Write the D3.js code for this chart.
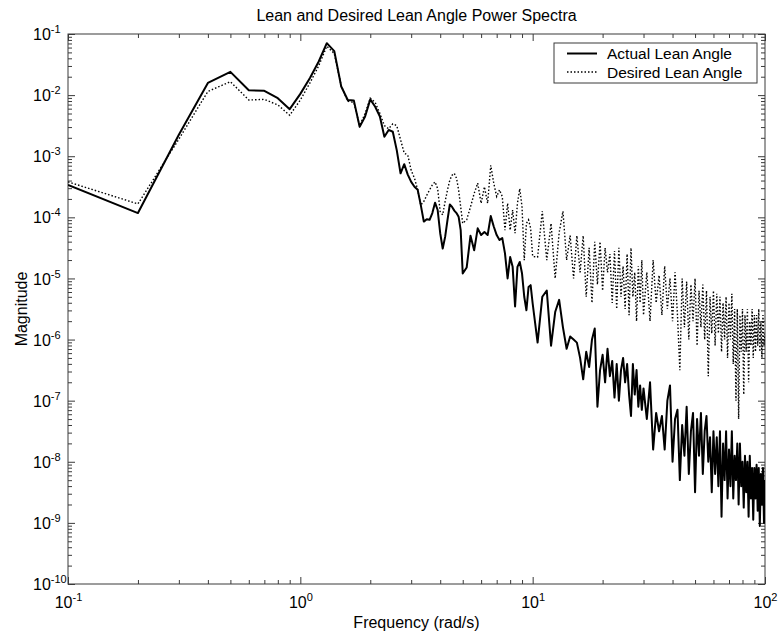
<!DOCTYPE html>
<html><head><meta charset="utf-8">
<script src="https://cdn.jsdelivr.net/npm/d3@7/dist/d3.min.js"></script>
<style>
body{margin:0;background:#fff}
text{font-family:Arial,"Liberation Sans",sans-serif;fill:#000}
</style>
</head><body>
<svg id="chart" width="778" height="638"></svg>
<script>
const title = "Lean and Desired Lean Angle Power Spectra";
const xLabel = "Frequency (rad/s)";
const yLabel = "Magnitude";
const seriesNames = ["Actual Lean Angle", "Desired Lean Angle"];

// frequency bins (rad/s)
const frequency = [
0.1,0.2,0.3,0.4,0.5,0.6,0.7,0.8,0.9,1.0,1.1,1.2,1.3,1.4,1.5,1.6,1.7,1.8,1.9,2.0,
2.1,2.2,2.3,2.4,2.5,2.6,2.7,2.8,2.9,3.0,3.1,3.2,3.3,3.4,3.5,3.6,3.7,3.8,3.9,4.0,
4.1,4.2,4.3,4.4,4.5,4.6,4.7,4.8,4.9,5.0,
5.2,5.4,5.6,5.8,6.0,6.2,6.4,6.6,6.8,7.0,7.2,7.4,7.6,7.8,8.0,8.2,8.4,8.6,8.8,9.0,9.2,9.4,9.6,9.8,10,
10.5,11,11.5,12,12.5,13,13.5,14,14.5,15,15.5,16,16.5,17,17.5,18,18.5,19,19.5,20,
20.5,21,21.5,22,22.5,23,23.5,24,24.5,25,25.5,26,26.5,27,27.5,28,28.5,29,29.5,30,
31,32,33,34,35,36,37,38,39,40,41,42,43,44,45,46,47,48,49,50,
51,52,53,54,55,56,57,58,59,60,61,62,63,64,65,66,67,68,69,70,
71,72,73,74,75,76,77,78,79,80,81,82,83,84,85,86,87,88,89,90,
91,92,93,94,95,96,97,98,99,100];

// log10 of magnitude
const actualLog10 = [
-3.47,-3.93,-2.65,-1.80,-1.62,-1.92,-1.93,-2.05,-2.23,-1.98,-1.72,-1.45,-1.15,-1.28,-1.86,-2.08,-2.09,-2.52,-2.35,-2.07,
-2.19,-2.35,-2.68,-2.57,-2.60,-2.90,-3.28,-3.13,-3.30,-3.42,-3.50,-3.55,-3.80,-4.07,-4.03,-4.04,-3.93,-3.76,-3.88,-4.26,
-4.51,-4.32,-4.04,-3.79,-3.83,-3.89,-3.93,-3.99,-4.21,-4.92,
-4.82,-4.30,-4.54,-4.18,-4.29,-4.24,-4.29,-3.98,-4.15,-4.29,-4.37,-4.34,-4.59,-5.00,-4.65,-4.81,-5.46,-4.81,-4.73,-4.92,-5.30,-5.52,-5.14,-5.11,-5.41,
-6.05,-5.30,-5.20,-6.10,-5.55,-5.35,-5.80,-6.15,-5.95,-6.00,-6.05,-6.30,-6.65,-6.20,-6.45,-6.00,-5.82,-7.10,-6.50,-6.25,
-6.70,-6.15,-6.60,-6.35,-6.95,-6.40,-7.00,-6.50,-6.30,-6.70,-6.40,-6.90,-7.25,-6.40,-6.90,-6.50,-7.10,-6.75,-7.15,-6.80,
-7.30,-6.70,-7.80,-7.20,-7.50,-7.25,-7.80,-7.00,-6.75,-8.00,-7.30,-7.15,-8.30,-7.40,-7.90,-7.10,-8.20,-7.50,-7.20,-8.50,
-7.30,-7.90,-7.20,-8.20,-7.50,-7.25,-8.00,-7.60,-8.50,-7.50,-8.20,-7.60,-8.40,-7.50,-8.90,-7.70,-8.30,-7.50,-8.60,-7.80,
-8.40,-7.50,-8.60,-7.90,-8.30,-7.70,-8.70,-7.70,-8.40,-8.00,-8.75,-7.90,-8.50,-8.00,-8.90,-7.90,-8.60,-8.10,-8.95,-8.10,
-8.60,-8.05,-8.80,-8.10,-9.05,-8.20,-8.70,-8.10,-9.00,-8.30];

const desiredLog10 = [
-3.42,-3.78,-2.72,-1.94,-1.78,-2.08,-2.07,-2.16,-2.33,-2.08,-1.80,-1.52,-1.20,-1.32,-1.85,-2.10,-2.12,-2.50,-2.30,-2.05,
-2.12,-2.30,-2.50,-2.55,-2.47,-2.50,-2.73,-2.95,-2.98,-3.23,-3.36,-3.55,-3.80,-3.74,-3.64,-3.55,-3.47,-3.42,-3.53,-3.91,
-3.96,-3.74,-3.55,-3.39,-3.31,-3.28,-3.36,-3.55,-3.83,-4.10,
-4.04,-3.83,-3.61,-3.44,-3.77,-3.50,-3.77,-3.15,-3.44,-3.66,-3.55,-3.66,-4.21,-3.77,-4.21,-3.88,-4.26,-3.77,-3.53,-3.83,-4.70,-4.10,-4.04,-4.18,-4.64,
-4.65,-3.90,-4.70,-4.10,-5.00,-4.25,-3.90,-4.70,-4.30,-5.00,-4.30,-4.90,-4.30,-5.30,-4.50,-5.40,-4.40,-5.10,-4.40,-5.20,
-4.50,-4.90,-4.60,-5.40,-4.55,-5.50,-4.50,-5.30,-4.80,-5.50,-4.60,-5.60,-4.50,-5.30,-4.90,-5.70,-4.80,-5.40,-4.70,-5.60,
-4.90,-5.70,-4.70,-5.40,-4.95,-5.60,-4.80,-5.50,-5.00,-5.70,-4.90,-5.60,-6.50,-5.00,-5.80,-5.05,-6.00,-5.10,-5.70,-5.00,
-6.10,-5.20,-5.80,-5.10,-6.00,-5.20,-6.60,-5.30,-5.90,-5.20,-6.10,-5.25,-5.90,-5.30,-6.20,-5.40,-6.00,-5.30,-6.30,-5.40,
-6.00,-5.25,-6.40,-5.50,-7.00,-5.50,-7.30,-5.60,-6.20,-5.50,-6.90,-5.60,-6.20,-5.50,-6.70,-5.70,-6.10,-5.50,-6.30,-5.60,
-6.20,-5.60,-6.10,-5.50,-6.20,-5.70,-6.30,-5.60,-6.10,-5.90];

const xTickExponents = [-1, 0, 1, 2];
const yTickExponents = [-10, -9, -8, -7, -6, -5, -4, -3, -2, -1];

const svg = d3.select("#chart");
const L = 68, R = 765, T = 34, B = 584;
const x = d3.scaleLog().domain([0.1, 100]).range([L, R]);
const y = d3.scaleLog().domain([1e-10, 1e-1]).range([B, T]);

const majorX = xTickExponents.map(e => Math.pow(10, e));
const majorY = yTickExponents.map(e => Math.pow(10, e));
const minorOf = (exps) => {
  const out = [];
  for (let i = 0; i < exps.length - 1; i++)
    for (let k = 2; k <= 9; k++) out.push(k * Math.pow(10, exps[i]));
  return out;
};
const minorX = minorOf(xTickExponents);
const minorY = minorOf(yTickExponents);

const axisColor = "#3a3a3a";
function styleAxis(g) {
  g.select(".domain").remove();
  g.selectAll(".tick line").attr("stroke", axisColor).attr("stroke-width", 1);
}
function supLabel(sel) {
  sel.each(function (d) {
    const t = d3.select(this);
    const e = Math.round(Math.log10(d));
    t.text(null);
    t.append("tspan").text("10");
    t.append("tspan").attr("dy", -7).attr("font-size", 11).text(e);
  });
}

// bottom
const gb = svg.append("g").attr("transform", `translate(0,${B})`);
gb.call(d3.axisBottom(x).tickValues(minorX).tickSize(-4).tickFormat(""));
styleAxis(gb);
const gb2 = svg.append("g").attr("transform", `translate(0,${B})`);
gb2.call(d3.axisBottom(x).tickValues(majorX).tickSize(-7).tickPadding(0));
styleAxis(gb2);
gb2.selectAll(".tick text").attr("font-size", 16).attr("font-family", "Arial, 'Liberation Sans', sans-serif")
  .attr("y", 24).attr("dy", null).call(supLabel);

// top
const gt = svg.append("g").attr("transform", `translate(0,${T})`);
gt.call(d3.axisTop(x).tickValues(minorX).tickSize(-4).tickFormat(""));
styleAxis(gt);
const gt2 = svg.append("g").attr("transform", `translate(0,${T})`);
gt2.call(d3.axisTop(x).tickValues(majorX).tickSize(-7).tickFormat(""));
styleAxis(gt2);

// left
const gl = svg.append("g").attr("transform", `translate(${L},0)`);
gl.call(d3.axisLeft(y).tickValues(minorY).tickSize(-4).tickFormat(""));
styleAxis(gl);
const gl2 = svg.append("g").attr("transform", `translate(${L},0)`);
gl2.call(d3.axisLeft(y).tickValues(majorY).tickSize(-7));
styleAxis(gl2);
gl2.selectAll(".tick text").attr("font-size", 16).attr("font-family", "Arial, 'Liberation Sans', sans-serif")
  .attr("text-anchor", "start").attr("x", -35).attr("dy", "0.35em").call(supLabel);

// right
const gr = svg.append("g").attr("transform", `translate(${R},0)`);
gr.call(d3.axisRight(y).tickValues(minorY).tickSize(-4).tickFormat(""));
styleAxis(gr);
const gr2 = svg.append("g").attr("transform", `translate(${R},0)`);
gr2.call(d3.axisRight(y).tickValues(majorY).tickSize(-7).tickFormat(""));
styleAxis(gr2);

// box
svg.append("rect").attr("x", L).attr("y", T).attr("width", R - L).attr("height", B - T)
  .attr("fill", "none").attr("stroke", axisColor).attr("stroke-width", 1);

// clip
svg.append("clipPath").attr("id", "plotclip").append("rect")
  .attr("x", L).attr("y", T).attr("width", R - L).attr("height", B - T);

const n = Math.min(frequency.length, actualLog10.length, desiredLog10.length);
const actual = d3.range(n).map(i => ({f: frequency[i], v: Math.pow(10, actualLog10[i])}));
const desired = d3.range(n).map(i => ({f: frequency[i], v: Math.pow(10, desiredLog10[i])}));
const line = d3.line().x(d => x(d.f)).y(d => y(d.v));

const plot = svg.append("g").attr("clip-path", "url(#plotclip)");
plot.append("path").datum(desired).attr("d", line).attr("fill", "none")
  .attr("stroke", "#000").attr("stroke-width", 1.4).attr("stroke-dasharray", "1.5,2");
plot.append("path").datum(actual).attr("d", line).attr("fill", "none")
  .attr("stroke", "#000").attr("stroke-width", 2).attr("stroke-linejoin", "round");

// title & labels
svg.append("text").attr("x", (L + R) / 2).attr("y", 21).attr("text-anchor", "middle")
  .attr("font-size", 16).text(title);
svg.append("text").attr("x", (L + R) / 2).attr("y", 628).attr("text-anchor", "middle")
  .attr("font-size", 16).text(xLabel);
svg.append("text").attr("transform", `translate(27,${(T + B) / 2}) rotate(-90)`)
  .attr("text-anchor", "middle").attr("font-size", 16).text(yLabel);

// legend
const lg = svg.append("g").attr("transform", "translate(554,43)");
lg.append("rect").attr("width", 203).attr("height", 40).attr("fill", "#fff")
  .attr("stroke", axisColor).attr("stroke-width", 1);
const legendRows = [
  {name: seriesNames[0], w: 2, dash: null},
  {name: seriesNames[1], w: 1.4, dash: "1.5,2"}
];
legendRows.forEach((r, i) => {
  const yy = 10.5 + i * 18.5;
  lg.append("line").attr("x1", 13).attr("x2", 43).attr("y1", yy).attr("y2", yy)
    .attr("stroke", "#000").attr("stroke-width", r.w).attr("stroke-dasharray", r.dash);
  lg.append("text").attr("x", 53).attr("y", yy + 5.5).attr("font-size", 15.5).text(r.name);
});
</script>
</body></html>
